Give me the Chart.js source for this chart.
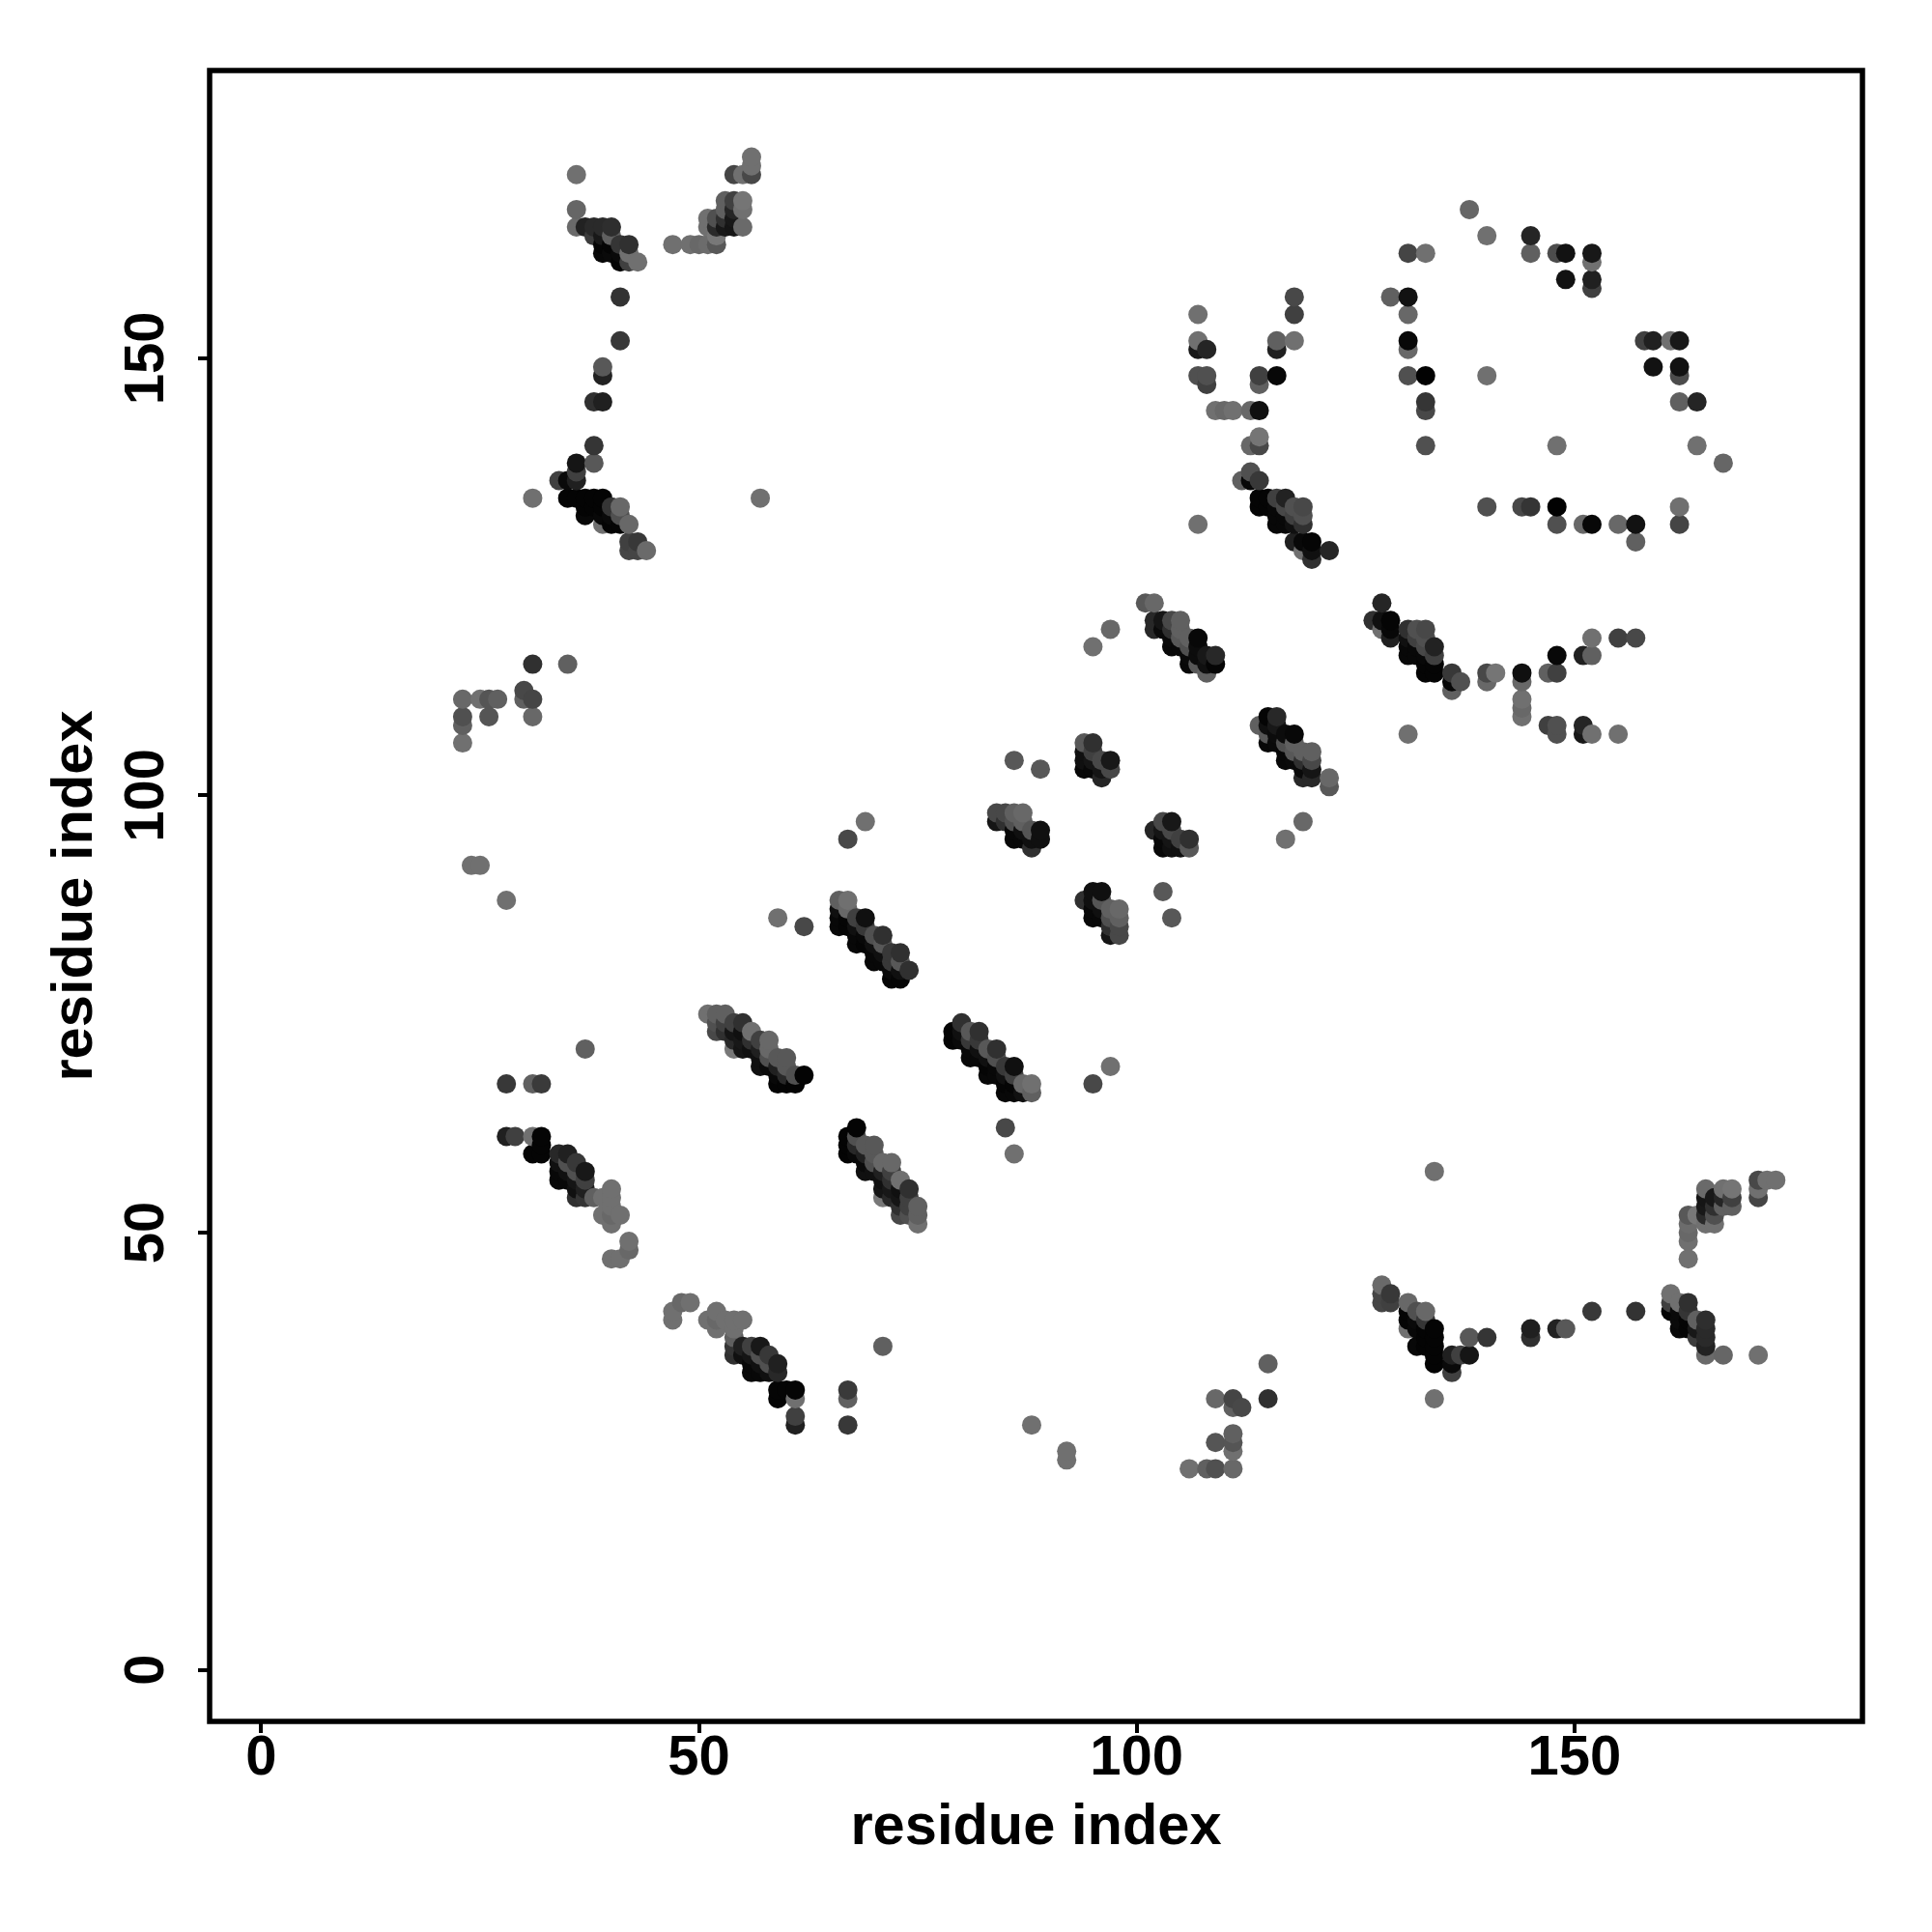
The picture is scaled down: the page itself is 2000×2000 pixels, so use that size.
<!DOCTYPE html>
<html>
<head>
<meta charset="utf-8">
<style>html,body{margin:0;padding:0;background:#fff}canvas{display:block}</style>
<script src="https://cdn.jsdelivr.net/npm/chart.js@4"></script>
</head>
<body>
<canvas id="c" width="2000" height="2000"></canvas>
<script>
// Contacts: [residue i, residue j, grey level], i < j. The map is symmetric.
const armUpperLeft = [[36,171,0x70],[36,167,0x66],[36,165,0x6a],[37,165,0x22],[38,165,0x2a],[39,165,0x2a],[40,165,0x2e],[38,164,0x3c],[39,164,0x18],[40,164,0x60],[39,163,0x05],[40,163,0x05],[41,163,0x35],[42,163,0x30],[39,162,0x08],[40,162,0x0a],[41,162,0x0a],[42,162,0x70],[41,161,0x05],[42,161,0x40],[43,161,0x70],[41,157,0x33],[41,152,0x38],[39,149,0x58],[39,148,0x22],[38,145,0x30],[39,145,0x20]];
const armUpperRight = [[47,163,0x70],[49,163,0x70],[50,163,0x68],[51,163,0x6c],[52,163,0x58],[51,166,0x70],[51,165,0x70],[52,166,0x50],[52,165,0x2a],[52,164,0x78],[53,168,0x60],[53,167,0x60],[53,166,0x30],[53,165,0x18],[54,171,0x45],[54,168,0x40],[54,167,0x25],[54,166,0x18],[54,165,0x15],[55,171,0x70],[55,168,0x75],[55,167,0x70],[55,165,0x6a],[56,173,0x70],[56,172,0x70],[56,171,0x48]];
const clusterB = [[38,140,0x35],[38,138,0x58],[36,138,0x15],[36,137,0x40],[36,136,0x20],[35,136,0x0a],[34,136,0x40],[35,134,0x04],[36,134,0x04],[37,134,0x04],[38,134,0x04],[39,134,0x04],[37,133,0x04],[38,133,0x04],[39,133,0x04],[40,133,0x35],[41,133,0x68],[37,132,0x08],[39,132,0x08],[40,132,0x0a],[41,132,0x50],[39,131,0x70],[40,131,0x05],[41,131,0x05],[42,131,0x68],[42,129,0x40],[43,129,0x38],[42,128,0x45],[43,128,0x45],[44,128,0x6a],[31,134,0x70],[57,134,0x70]];
const clusterC = [[23,111,0x68],[23,109,0x50],[23,108,0x60],[23,106,0x70],[25,111,0x70],[26,111,0x55],[26,109,0x55],[27,111,0x60],[30,112,0x48],[30,111,0x60],[31,111,0x45],[31,109,0x68],[31,115,0x30],[35,115,0x60],[24,92,0x70],[25,92,0x70],[28,88,0x70],[28,67,0x38],[31,67,0x60],[32,67,0x3a],[37,71,0x60]];
const strandLow = [[28,61,0x20],[29,61,0x40],[31,61,0x70],[32,61,0x05],[32,60,0x05],[31,59,0x05],[32,59,0x05],[34,59,0x28],[34,58,0x10],[34,57,0x08],[34,56,0x08],[35,59,0x20],[35,58,0x50],[35,57,0x10],[35,56,0x08],[36,58,0x38],[36,57,0x50],[36,56,0x15],[36,55,0x10],[36,54,0x30],[37,57,0x18],[37,56,0x40],[37,55,0x20],[37,54,0x35],[38,54,0x60],[39,54,0x70],[39,52,0x70],[40,55,0x70],[40,54,0x70],[40,53,0x70],[40,52,0x68],[40,51,0x70],[41,52,0x70],[42,49,0x70],[42,48,0x68],[41,47,0x70],[40,47,0x70]];
const strand51to62 = [[51,75,0x70],[52,75,0x60],[53,75,0x60],[52,74,0x50],[53,74,0x40],[54,74,0x40],[55,74,0x30],[52,73,0x48],[53,73,0x30],[54,73,0x15],[55,73,0x10],[56,73,0x70],[54,72,0x28],[55,72,0x18],[56,72,0x30],[57,72,0x40],[58,72,0x68],[54,71,0x78],[55,71,0x15],[56,71,0x10],[57,71,0x20],[58,71,0x68],[57,70,0x10],[58,70,0x50],[59,70,0x58],[60,70,0x58],[57,69,0x10],[58,69,0x0a],[59,69,0x20],[60,69,0x58],[59,68,0x08],[60,68,0x28],[61,68,0x50],[62,68,0x04],[59,67,0x04],[60,67,0x04],[61,67,0x04]];
const strand66to74 = [[66,88,0x60],[66,87,0x10],[66,86,0x08],[66,85,0x08],[67,88,0x70],[67,87,0x68],[67,86,0x05],[67,85,0x05],[68,86,0x40],[68,85,0x10],[68,84,0x08],[68,83,0x08],[69,86,0x10],[69,85,0x38],[69,84,0x08],[69,83,0x05],[70,84,0x50],[70,83,0x10],[70,82,0x08],[70,81,0x08],[71,84,0x30],[71,83,0x58],[71,82,0x10],[71,81,0x08],[72,82,0x38],[72,81,0x38],[72,80,0x0a],[72,79,0x05],[73,82,0x30],[73,81,0x58],[73,80,0x10],[73,79,0x05],[74,80,0x30],[59,86,0x70],[62,85,0x48],[67,95,0x48],[69,97,0x70]];
const clusterD = [[84,98,0x48],[84,97,0x15],[85,98,0x48],[85,97,0x30],[86,98,0x60],[86,97,0x50],[86,96,0x08],[86,95,0x08],[87,98,0x68],[87,97,0x60],[87,96,0x10],[87,95,0x08],[88,96,0x55],[88,95,0x10],[88,94,0x30],[89,96,0x10],[89,95,0x10],[86,104,0x58],[89,103,0x58]];
const clusterE = [[94,106,0x58],[94,105,0x10],[94,104,0x10],[94,103,0x08],[95,106,0x30],[95,105,0x40],[95,104,0x15],[95,103,0x08],[96,104,0x48],[96,103,0x15],[96,102,0x25],[97,104,0x18],[97,103,0x48]];
const clusterH = [[102,120,0x28],[103,120,0x15],[104,120,0x48],[105,120,0x60],[102,119,0x28],[103,119,0x0a],[104,119,0x30],[105,119,0x60],[104,118,0x0a],[105,118,0x58],[106,118,0x60],[107,118,0x08],[104,117,0x08],[105,117,0x08],[106,117,0x50],[107,117,0x0c],[106,116,0x0a],[107,116,0x0c],[108,116,0x18],[109,116,0x28],[106,115,0x08],[107,115,0x58],[108,115,0x10],[109,115,0x05],[108,114,0x60],[101,122,0x58],[102,122,0x68],[95,117,0x70],[97,119,0x68]];
const strand112to122 = [[112,136,0x60],[113,137,0x50],[113,136,0x08],[114,136,0x38],[114,134,0x05],[114,133,0x05],[115,134,0x05],[115,133,0x05],[116,134,0x40],[116,133,0x08],[116,132,0x08],[116,131,0x08],[117,134,0x22],[117,133,0x48],[117,132,0x08],[117,131,0x08],[118,133,0x50],[118,132,0x40],[118,131,0x10],[118,129,0x20],[119,133,0x48],[119,132,0x50],[119,131,0x30],[119,129,0x08],[119,128,0x70],[120,129,0x05],[120,128,0x10],[120,127,0x30],[122,128,0x25]];
const armRight = [[107,155,0x70],[107,152,0x70],[107,151,0x18],[108,151,0x25],[107,148,0x50],[108,148,0x50],[108,147,0x40],[109,144,0x70],[110,144,0x68],[111,144,0x70],[113,144,0x68],[114,144,0x10],[114,148,0x40],[114,147,0x60],[116,148,0x08],[116,152,0x60],[116,151,0x20],[118,152,0x70],[118,157,0x48],[118,155,0x40],[113,140,0x68],[114,141,0x75],[114,140,0x48],[107,131,0x70]];
const ring = [[138,167,0x66],[140,164,0x70],[131,162,0x45],[133,162,0x70],[145,164,0x25],[145,162,0x60],[148,162,0x4c],[149,162,0x12],[152,162,0x18],[152,161,0x70],[149,159,0x12],[152,159,0x20],[152,158,0x40],[129,157,0x60],[131,157,0x12],[131,155,0x68],[131,152,0x08],[131,151,0x68],[131,148,0x50],[133,148,0x02],[140,148,0x70],[133,145,0x35],[133,144,0x48],[133,140,0x50]];

const tickStep = 50;
const axisTitle = 'residue index';

const contacts = [armUpperLeft, armUpperRight, clusterB, clusterC, strandLow, strand51to62, strand66to74, clusterD, clusterE, clusterH, strand112to122, armRight, ring].flat();
// both triangles of the symmetric map, painted in order of x then y as in the picture
const points = contacts.flatMap(([i, j, g]) => [{x: i, y: j, g}, {x: j, y: i, g}])
  .sort((a, b) => a.x - b.x || a.y - b.y);

const FAMILY = '"Liberation Sans", Arial, sans-serif';
const TICK_FONT = {family: FAMILY, size: 58, weight: 'bold', lineHeight: 1.2};
const TITLE_FONT = {family: FAMILY, size: 59.6, weight: 'bold', lineHeight: 1.2};
const fixed = size => scale => { if (scale.isHorizontal()) scale.height = size; else scale.width = size; };

const frame = {
  id: 'frame',
  afterDatasetsDraw(chart) {
    const a = chart.chartArea, c = chart.ctx;
    c.save();
    c.strokeStyle = '#000';
    c.lineWidth = 5.5;
    c.strokeRect(a.left, a.top, a.right - a.left, a.bottom - a.top);
    c.restore();
  }
};

new Chart(document.getElementById('c'), {
  type: 'scatter',
  data: {datasets: [{
    data: points,
    backgroundColor: points.map(p => `rgb(${p.g},${p.g},${p.g})`),
    borderWidth: 0,
    pointRadius: 10,
    pointHoverRadius: 10
  }]},
  options: {
    responsive: false,
    animation: false,
    layout: {padding: {top: 73, right: 72, left: 0, bottom: 0}},
    plugins: {legend: {display: false}, tooltip: {enabled: false}},
    scales: {
      x: {
        type: 'linear', min: -5.9, max: 182.9,
        afterFit: fixed(218),
        border: {display: false},
        grid: {drawOnChartArea: false, drawTicks: true, tickLength: 12, tickColor: '#000', lineWidth: 4},
        ticks: {stepSize: tickStep, includeBounds: false, autoSkip: false, color: '#000', font: TICK_FONT, padding: -8, maxRotation: 0, minRotation: 0},
        title: {display: true, text: axisTitle, color: '#000', font: TITLE_FONT, padding: {top: 0, bottom: 72}}
      },
      y: {
        type: 'linear', min: -5.9, max: 182.9,
        afterFit: fixed(217),
        border: {display: false},
        grid: {drawOnChartArea: false, drawTicks: true, tickLength: 12, tickColor: '#000', lineWidth: 4},
        ticks: {stepSize: tickStep, includeBounds: false, autoSkip: false, color: '#000', font: TICK_FONT, padding: 4, minRotation: 90, maxRotation: 90, crossAlign: 'center'},
        title: {display: true, text: axisTitle, color: '#000', font: TITLE_FONT, padding: {top: 43, bottom: 0}}
      }
    }
  },
  plugins: [frame]
});
</script>
</body>
</html>
